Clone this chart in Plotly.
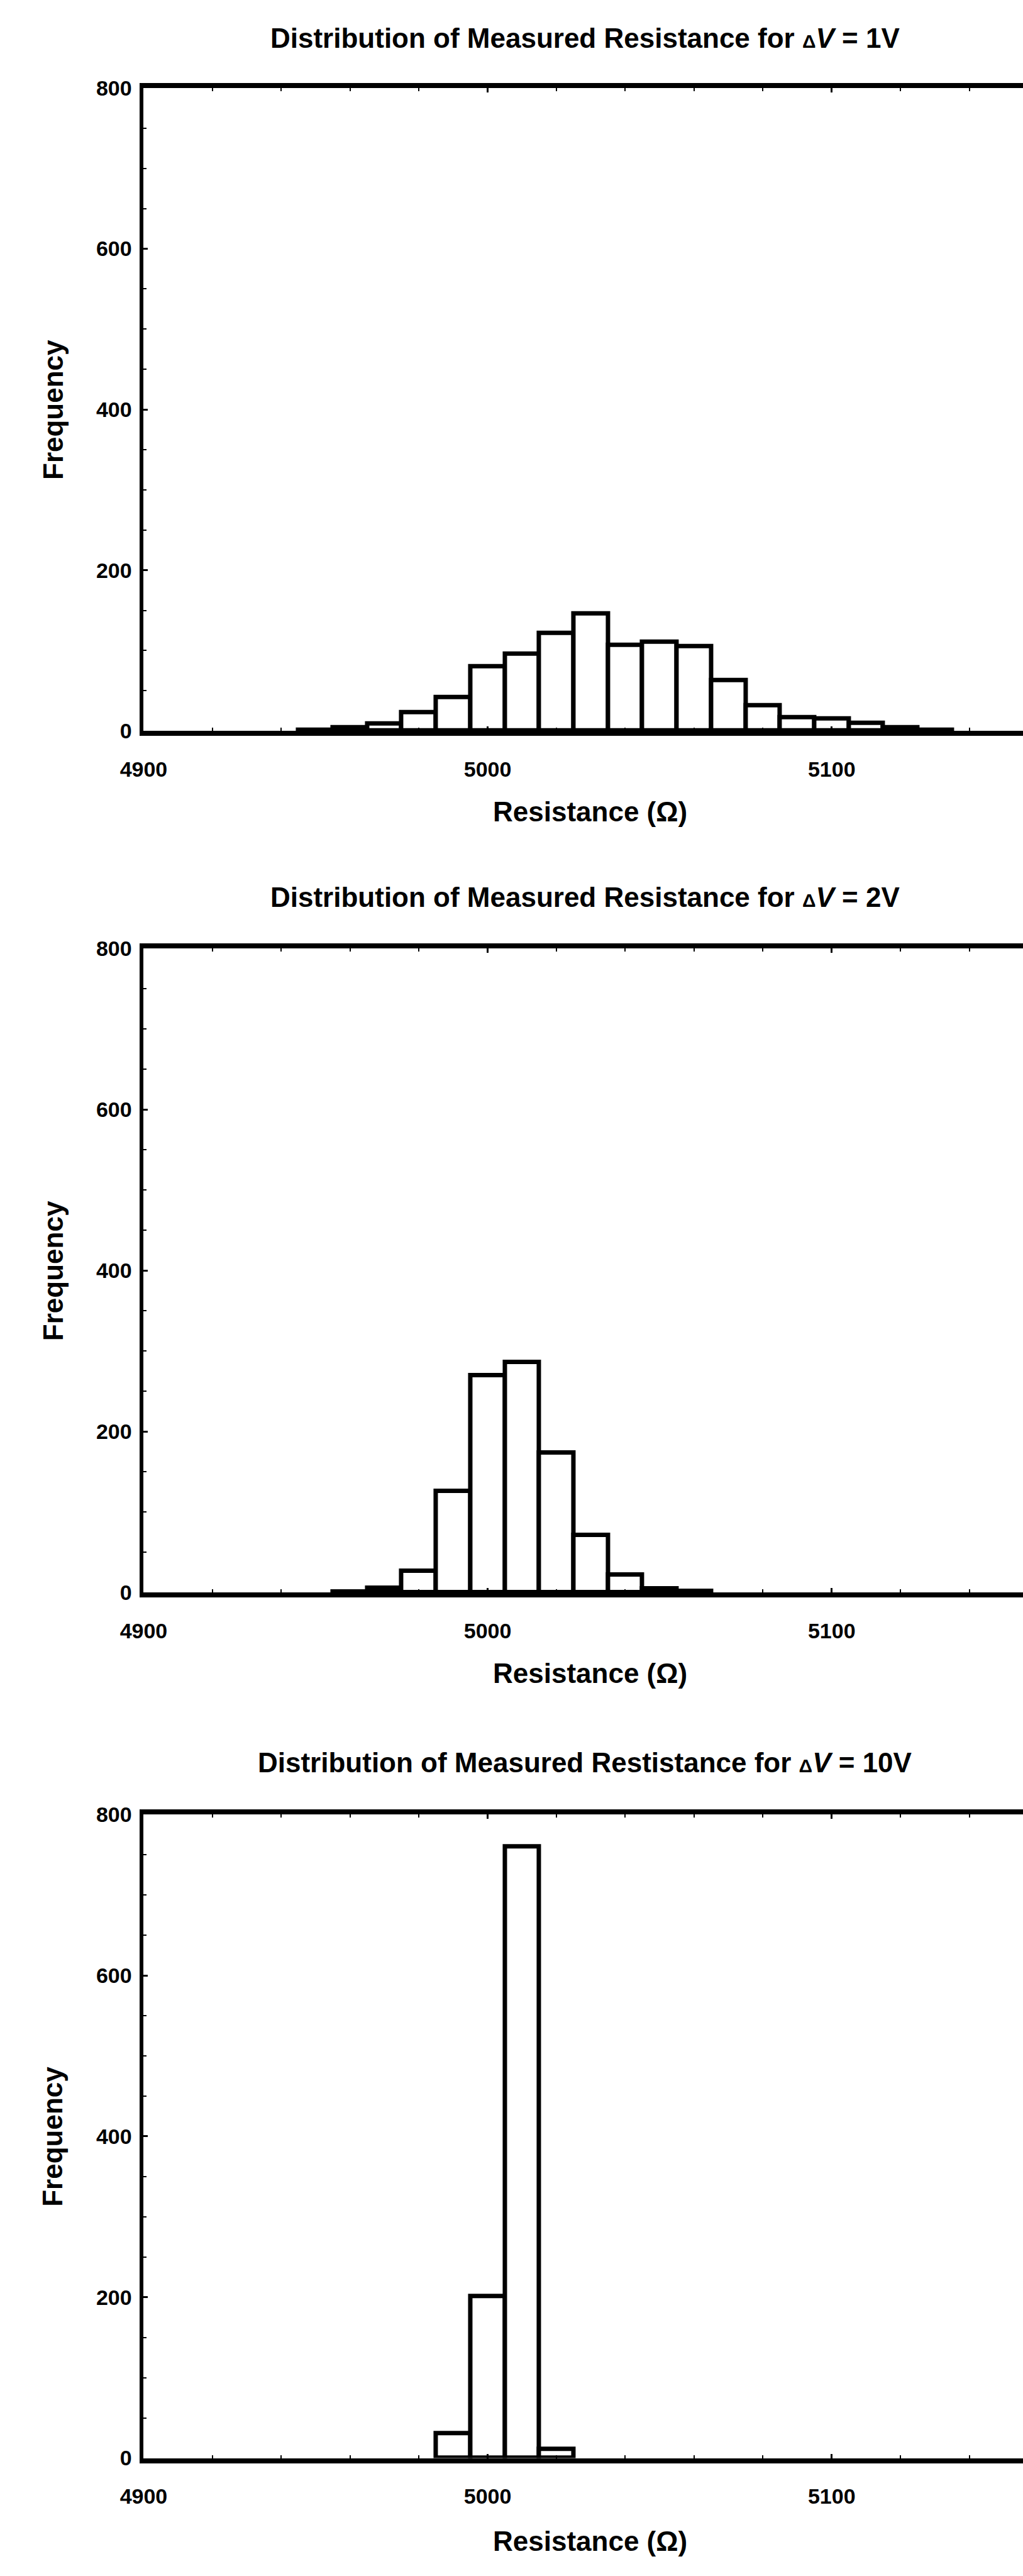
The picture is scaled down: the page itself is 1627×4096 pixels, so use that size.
import plotly.graph_objects as go

# ---------------- data ----------------
bins_1v = [4950, 4960, 4970, 4980, 4990, 5000, 5010, 5020, 5030, 5040,
           5050, 5060, 5070, 5080, 5090, 5100, 5110, 5120, 5130]
counts_1v = [1, 4, 9, 23, 42, 80, 96, 122, 146, 107,
             111, 105, 63, 32, 17, 15, 10, 4, 1]

bins_2v = [4960, 4970, 4980, 4990, 5000, 5010, 5020, 5030, 5040, 5050, 5060]
counts_2v = [1, 6, 27, 126, 270, 286, 174, 71, 22, 5, 2]

bins_10v = [4990, 5000, 5010, 5020]
counts_10v = [31, 201, 760, 11]

bin_width = 10

titles = [
    "Distribution of Measured Resistance for <span style='font-size:30px'>Δ</span><i>V</i> = 1V",
    "Distribution of Measured Resistance for <span style='font-size:30px'>Δ</span><i>V</i> = 2V",
    "Distribution of Measured Restistance for <span style='font-size:30px'>Δ</span><i>V</i> = 10V",
]
x_title = "Resistance (Ω)"
y_title = "Frequency"

x_tick_vals = [4900, 5000, 5100]
x_tick_text = ["4900", "5000", "5100"]
y_tick_vals = [0, 200, 400, 600, 800]
y_tick_text = ["0", "200", "400", "600", "800"]

# ---------------- layout geometry ----------------
W, H = 1627, 4096
FONT = "Liberation Sans, Arial, Helvetica, sans-serif"

def py(px):
    return 1 - px / H

left_px = 195
panels_px = [(122, 1154), (1503, 2537), (2893, 3926)]
title_px = [42, 1421, 2810]
xlabel_px = [1283, 2666, 4059]

series = [(bins_1v, counts_1v), (bins_2v, counts_2v), (bins_10v, counts_10v)]

fig = go.Figure()
for i, (bx, cy) in enumerate(series):
    sfx = "" if i == 0 else str(i + 1)
    fig.add_trace(go.Bar(
        x=bx, y=cy, width=bin_width,
        marker=dict(color="white", line=dict(color="black", width=7)),
        xaxis="x" + sfx, yaxis="y" + sfx, showlegend=False,
    ))

layout = dict(
    width=W, height=H,
    margin=dict(l=0, r=0, t=0, b=0),
    paper_bgcolor="white", plot_bgcolor="white",
    bargap=0, showlegend=False,
    font=dict(family=FONT, color="black"),
)

annotations = []
for i, (top, bot) in enumerate(panels_px):
    sfx = "" if i == 0 else str(i + 1)
    layout["xaxis" + sfx] = dict(
        domain=[left_px / W, 1.0],
        anchor="y" + sfx,
        range=[4900, 5155.6],
        tickmode="array", tickvals=x_tick_vals, ticktext=x_tick_text,
        showline=True, linecolor="black", linewidth=8, mirror="ticks",
        ticks="inside", ticklen=7, tickwidth=3, tickcolor="black",
        minor=dict(tick0=4900, dtick=20, ticks="inside", ticklen=5,
                   tickwidth=2, tickcolor="black"),
        showgrid=False, zeroline=False,
        tickfont=dict(family=FONT, size=34, color="black", weight="bold"),
        ticklabelstandoff=24,
    )
    layout["yaxis" + sfx] = dict(
        domain=[py(bot), py(top)],
        anchor="x" + sfx,
        range=[0, 800],
        tickmode="array", tickvals=y_tick_vals, ticktext=y_tick_text,
        showline=True, linecolor="black", linewidth=6, mirror=False,
        ticks="inside", ticklen=7, tickwidth=3, tickcolor="black",
        minor=dict(tick0=0, dtick=50, ticks="inside", ticklen=5,
                   tickwidth=2, tickcolor="black"),
        showgrid=False, zeroline=False,
        tickfont=dict(family=FONT, size=34, color="black", weight="bold"),
        ticklabelstandoff=6,
    )
    annotations.append(dict(
        text=titles[i], x=914 / W, y=py(title_px[i]), xref="paper", yref="paper",
        xanchor="center", yanchor="middle", showarrow=False,
        font=dict(family=FONT, size=44, color="black", weight="bold"),
    ))
    annotations.append(dict(
        text=x_title, x=922 / W, y=py(xlabel_px[i]), xref="paper", yref="paper",
        xanchor="center", yanchor="middle", showarrow=False,
        font=dict(family=FONT, size=44, color="black", weight="bold"),
    ))
    annotations.append(dict(
        text=y_title, x=47 / W, y=py((top + bot) / 2), xref="paper", yref="paper",
        xanchor="center", yanchor="middle", showarrow=False, textangle=-90,
        font=dict(family=FONT, size=44, color="black", weight="bold"),
    ))

layout["annotations"] = annotations
fig.update_layout(**layout)
fig.write_html("out.html")
